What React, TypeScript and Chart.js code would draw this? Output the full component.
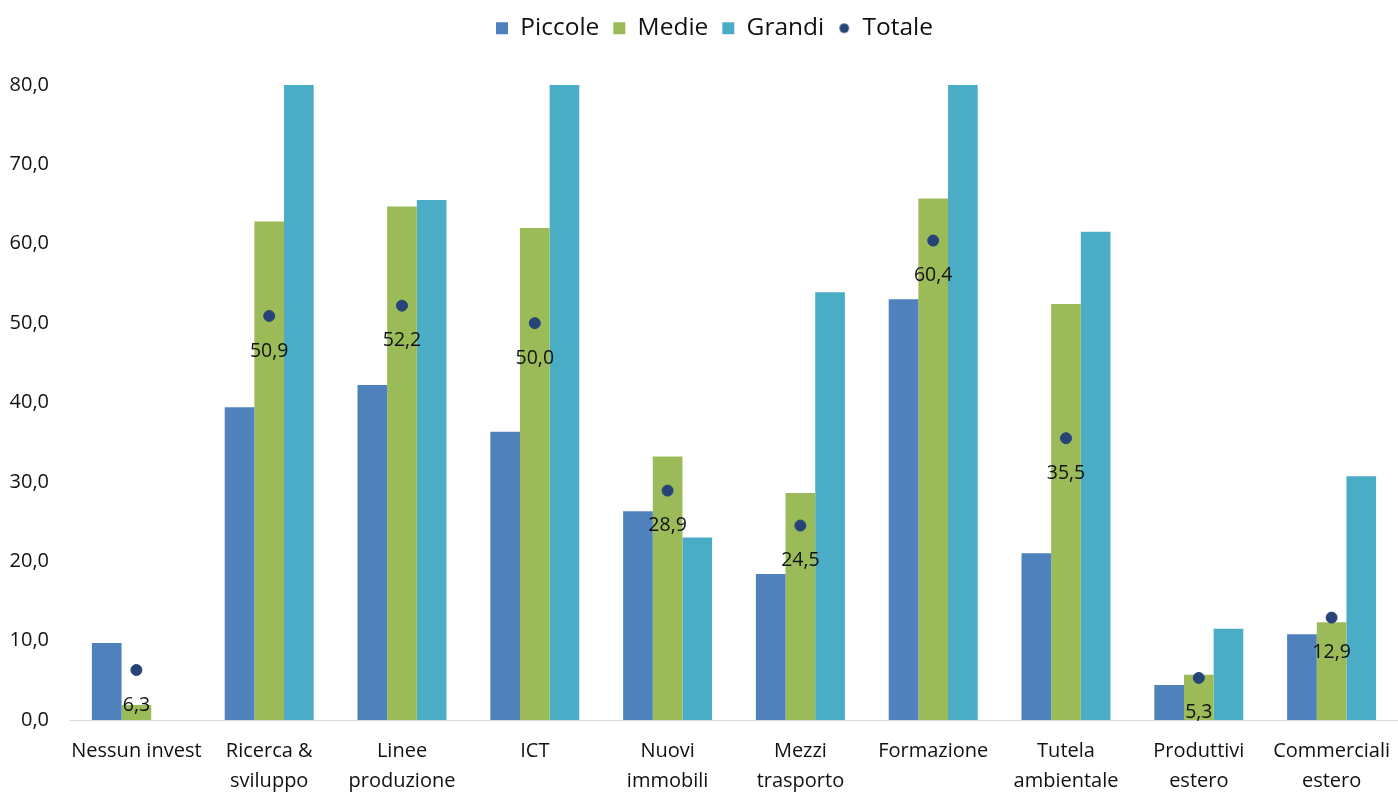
import React, { useEffect, useRef } from "react";
import { Chart, registerables } from "chart.js";

Chart.register(...registerables);

const categories: string[][] = [
  ["Nessun invest"],
  ["Ricerca &", "sviluppo"],
  ["Linee", "produzione"],
  ["ICT"],
  ["Nuovi", "immobili"],
  ["Mezzi", "trasporto"],
  ["Formazione"],
  ["Tutela", "ambientale"],
  ["Produttivi", "estero"],
  ["Commerciali", "estero"],
];

const piccole = [9.7, 39.4, 42.2, 36.3, 26.3, 18.4, 53.0, 21.0, 4.4, 10.8];
const medie = [1.9, 62.8, 64.7, 62.0, 33.2, 28.6, 65.7, 52.4, 5.7, 12.3];
const grandi = [0, 80, 65.5, 80, 23.0, 53.9, 80, 61.5, 11.5, 30.7];
const totale = [6.3, 50.9, 52.2, 50.0, 28.9, 24.5, 60.4, 35.5, 5.3, 12.9];

const yTicks = [0, 10, 20, 30, 40, 50, 60, 70, 80];

const FONT = "'Open Sans', 'Noto Sans', sans-serif";
const fmt = (v: number) => v.toFixed(1).replace(".", ",");

export default function App() {
  const ref = useRef<HTMLCanvasElement | null>(null);

  useEffect(() => {
    if (!ref.current) return;

    const dot = document.createElement("canvas");
    dot.width = 12;
    dot.height = 12;
    const dctx = dot.getContext("2d")!;
    dctx.fillStyle = "#264478";
    dctx.beginPath();
    dctx.arc(6, 6, 4.8, 0, Math.PI * 2);
    dctx.fill();

    const legendSpacer = {
      id: "legendSpacer",
      beforeLayout(chart: any) {
        const lg = chart.legend;
        if (lg && !lg.__patched) {
          const orig = lg.fit.bind(lg);
          lg.fit = function () {
            orig();
            this.height += 34.5;
          };
          lg.__patched = true;
        }
      },
      afterLayout(chart: any) {
        const lg = chart.legend;
        if (lg) {
          lg.left += 13;
          lg.right += 13;
        }
      },
    };

    const totalLabels = {
      id: "totalLabels",
      afterDatasetsDraw(chart: any) {
        const ctx = chart.ctx;
        const meta = chart.getDatasetMeta(3);
        ctx.save();
        ctx.font = `19.5px ${FONT}`;
        ctx.fillStyle = "#111";
        ctx.textAlign = "center";
        ctx.textBaseline = "middle";
        meta.data.forEach((pt: any, i: number) => {
          ctx.fillText(fmt(totale[i]), pt.x, pt.y + 35);
        });
        ctx.restore();
      },
    };

    const chart = new Chart(ref.current, {
      type: "bar",
      data: {
        labels: categories,
        datasets: [
          {
            label: "Piccole",
            data: piccole,
            backgroundColor: "#4F81BD",
            order: 2,
          },
          {
            label: "Medie",
            data: medie,
            backgroundColor: "#9BBB59",
            order: 2,
          },
          {
            label: "Grandi",
            data: grandi,
            backgroundColor: "#4BACC6",
            order: 2,
          },
          {
            type: "line",
            label: "Totale",
            data: totale,
            showLine: false,
            pointRadius: 5.5,
            pointBackgroundColor: "#264478",
            pointBorderColor: "#264478",
            backgroundColor: "#264478",
            borderColor: "#264478",
            order: 1,
          } as any,
        ],
      },
      options: {
        animation: false,
        responsive: false,
        maintainAspectRatio: false,
        layout: { autoPadding: false, padding: { top: 2, left: 0, right: -5, bottom: 0 } },
        datasets: {
          bar: { categoryPercentage: 0.67, barPercentage: 1.0 },
        } as any,
        plugins: {
          tooltip: { enabled: false },
          legend: {
            position: "top",
            labels: {
              usePointStyle: true,
              boxWidth: 12,
              boxHeight: 12,
              padding: 14,
              color: "#111",
              font: { family: FONT, size: 24.5 },
              generateLabels(chart: any) {
                return chart.data.datasets.map((ds: any, i: number) => ({
                  text: ds.label,
                  fillStyle: ds.backgroundColor,
                  strokeStyle: ds.backgroundColor,
                  lineWidth: 0,
                  pointStyle: i === 3 ? dot : "rect",
                  hidden: false,
                  datasetIndex: i,
                  fontColor: "#111",
                }));
              },
            },
          },
        },
        scales: {
          x: {
            grid: { display: false, drawTicks: false },
            border: { display: true, color: "#D9D9D9", width: 1 },
            ticks: {
              color: "#111",
              font: { family: FONT, size: 20, lineHeight: 1.5 },
              padding: 16,
              maxRotation: 0,
              autoSkip: false,
            },
            afterFit(scale: any) {
              scale.height = 72;
              scale.paddingLeft = 0;
              scale.paddingRight = 0;
            },
          },
          y: {
            min: 0,
            max: 80,
            grid: { display: false, drawTicks: false },
            border: { display: false },
            afterBuildTicks(scale: any) {
              scale.ticks = yTicks.map((v) => ({ value: v }));
            },
            ticks: {
              color: "#111",
              font: { family: FONT, size: 20 },
              padding: 21,
              callback: (v: any) => fmt(Number(v)),
            },
            afterFit(scale: any) {
              scale.width = 70;
            },
          },
        },
      },
      plugins: [legendSpacer, totalLabels],
    });

    return () => chart.destroy();
  }, []);

  return (
    <div style={{ position: "fixed", left: 0, top: 0, width: 1398, height: 792, background: "#fff" }}>
      <canvas ref={ref} width={1398} height={792} style={{ width: 1398, height: 792 }} />
    </div>
  );
}
